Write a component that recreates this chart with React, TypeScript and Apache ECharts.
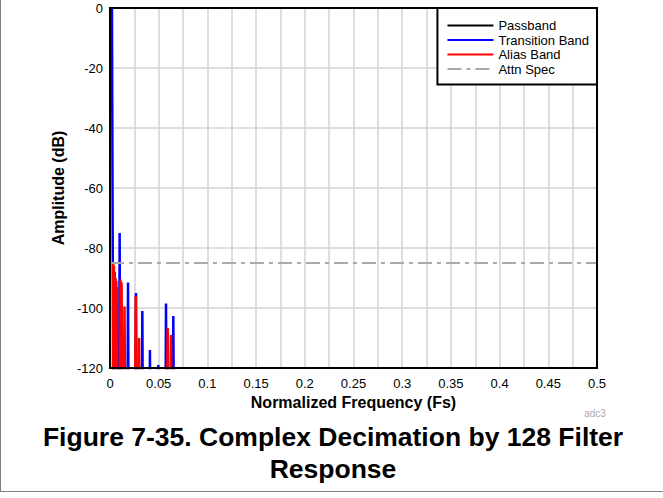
import React, { useEffect, useRef } from "react";
import * as echarts from "echarts";

// ---- data ----
const seriesNames = ["Passband", "Transition Band", "Alias Band", "Attn Spec"];
const seriesColors = ["#000000", "#0000ff", "#ff0000", "#aaaaaa"];

const xTicks = [0, 0.05, 0.1, 0.15, 0.2, 0.25, 0.3, 0.35, 0.4, 0.45, 0.5];
const yTicks = [-120, -100, -80, -60, -40, -20, 0];

const passband: number[][] = [
  [0, 0],
  [0.002, 0],
];

const transitionBand: number[][] = [
  [0.002, 0], [0.0024, -40], [0.0028, -80], [0.0032, -110], [0.0035, -140],
  [0.0093, -140], [0.0099, -75], [0.0105, -140],
  [0.0179, -140], [0.0185, -91.5], [0.0191, -140],
  [0.0261, -140], [0.0267, -95], [0.0273, -140],
  [0.0326, -140], [0.0332, -101], [0.0338, -140],
  [0.0405, -140], [0.041, -114], [0.0415, -140],
  [0.0491, -140], [0.0496, -119], [0.0501, -140],
  [0.0569, -140], [0.0575, -98.5], [0.0581, -140],
  [0.0644, -140], [0.065, -102.7], [0.0656, -140],
];

const aliasBand: number[][] = [
  [0.003, -140], [0.0033, -85], [0.0037, -125], [0.0041, -86], [0.0045, -125],
  [0.0049, -88], [0.0053, -125], [0.0057, -90], [0.0061, -125], [0.0065, -91],
  [0.0069, -130], [0.0072, -93], [0.0076, -140],
  [0.0102, -140], [0.0108, -90.5], [0.0114, -125], [0.0119, -91.5], [0.0126, -140],
  [0.0142, -140], [0.0149, -99.5], [0.0156, -140],
  [0.0256, -140], [0.0264, -96], [0.0272, -140],
  [0.0291, -140], [0.0298, -110], [0.0305, -140],
  [0.0585, -140], [0.0592, -106.7], [0.0599, -140],
  [0.0619, -140], [0.0626, -109], [0.0633, -140],
];

const attnSpec: number[][] = [
  [0, -85],
  [0.5, -85],
];

const FONT = "'Liberation Sans', Arial, Helvetica, sans-serif";

export default function App() {
  const ref = useRef<HTMLDivElement>(null);

  useEffect(() => {
    if (!ref.current) return;
    const chart = echarts.init(ref.current, undefined, { renderer: "svg" });
    const W = 663;
    const H = 498;
    const gl = 110, gt = 8, gr = 66, gb = 130;
    const gridLine = { color: "#d3d3d3", width: 1.5 };

    const option: any = {
      animation: false,
      backgroundColor: "#ffffff",
      textStyle: { fontFamily: FONT },
      grid: { left: gl, top: gt, right: gr, bottom: gb, containLabel: false },
      legend: {
        orient: "vertical",
        right: gr,
        top: gt,
        z: 6,
        padding: [11, 8, 9, 9],
        itemWidth: 46,
        itemHeight: 12,
        itemGap: 1.5,
        backgroundColor: "#ffffff",
        borderColor: "#000000",
        borderWidth: 2,
        borderRadius: 0,
        itemStyle: { opacity: 0 },
        textStyle: { fontFamily: FONT, fontSize: 13, color: "#000" },
        data: seriesNames,
      },
      xAxis: {
        type: "value",
        min: xTicks[0],
        max: xTicks[xTicks.length - 1],
        interval: 0.05,
        name: "Normalized Frequency (Fs)",
        nameLocation: "middle",
        nameGap: 25,
        nameTextStyle: { fontFamily: FONT, fontSize: 16, fontWeight: "bold", color: "#000" },
        axisLine: { show: false },
        axisTick: { show: false },
        axisLabel: {
          color: "#000",
          fontSize: 13,
          fontFamily: FONT,
          margin: 9,
          formatter: (v: number) => String(+v.toFixed(2)),
        },
        splitLine: { show: true, lineStyle: gridLine },
        minorTick: { show: false, splitNumber: 2 },
        minorSplitLine: { show: true, lineStyle: gridLine },
      },
      yAxis: {
        type: "value",
        min: yTicks[0],
        max: yTicks[yTicks.length - 1],
        interval: 20,
        name: "Amplitude (dB)",
        nameLocation: "middle",
        nameGap: 40,
        nameTextStyle: { fontFamily: FONT, fontSize: 16, fontWeight: "bold", color: "#000" },
        axisLine: { show: false },
        axisTick: { show: false },
        axisLabel: { color: "#000", fontSize: 13, fontFamily: FONT, margin: 7 },
        splitLine: { show: true, lineStyle: gridLine },
      },
      series: [
        { name: seriesNames[0], data: passband },
        { name: seriesNames[1], data: transitionBand },
        { name: seriesNames[2], data: aliasBand },
        {
          name: seriesNames[3],
          data: attnSpec,
          lineStyle: { type: [14, 5, 4, 5], width: 2, color: seriesColors[3] },
        },
      ].map((s: any, i: number) => ({
        type: "line",
        showSymbol: false,
        symbol: "none",
        clip: true,
        z: 2 + i * 0.01,
        color: seriesColors[i],
        lineStyle: { width: 2.5, color: seriesColors[i] },
        ...s,
      })),
      graphic: [
        {
          type: "rect",
          z: 5,
          silent: true,
          shape: { x: gl, y: gt, width: W - gl - gr, height: H - gt - gb },
          style: { fill: "none", stroke: "#000", lineWidth: 2 },
        },
        {
          type: "line",
          z: 5,
          silent: true,
          shape: { x1: 0.5, y1: 0, x2: 0.5, y2: 491.5 },
          style: { stroke: "#808080", lineWidth: 1 },
        },
        {
          type: "line",
          z: 5,
          silent: true,
          shape: { x1: 0, y1: 491.5, x2: W, y2: 491.5 },
          style: { stroke: "#808080", lineWidth: 1 },
        },
        {
          type: "text",
          z: 5,
          x: 595,
          y: 413,
          style: {
            text: "adc3",
            fill: "#aaaaaa",
            font: `10px ${FONT}`,
            textAlign: "center",
            textVerticalAlign: "middle",
          },
        },
        {
          type: "text",
          z: 5,
          x: 333,
          y: 437,
          style: {
            text: "Figure 7-35. Complex Decimation by 128 Filter",
            fill: "#000",
            font: `bold 26.5px ${FONT}`,
            textAlign: "center",
            textVerticalAlign: "middle",
          },
        },
        {
          type: "text",
          z: 5,
          x: 333,
          y: 469,
          style: {
            text: "Response",
            fill: "#000",
            font: `bold 26.5px ${FONT}`,
            textAlign: "center",
            textVerticalAlign: "middle",
          },
        },
      ],
    };
    chart.setOption(option);
    return () => chart.dispose();
  }, []);

  return (
    <div
      ref={ref}
      style={{ position: "absolute", left: 0, top: 0, width: 663, height: 498 }}
    />
  );
}
